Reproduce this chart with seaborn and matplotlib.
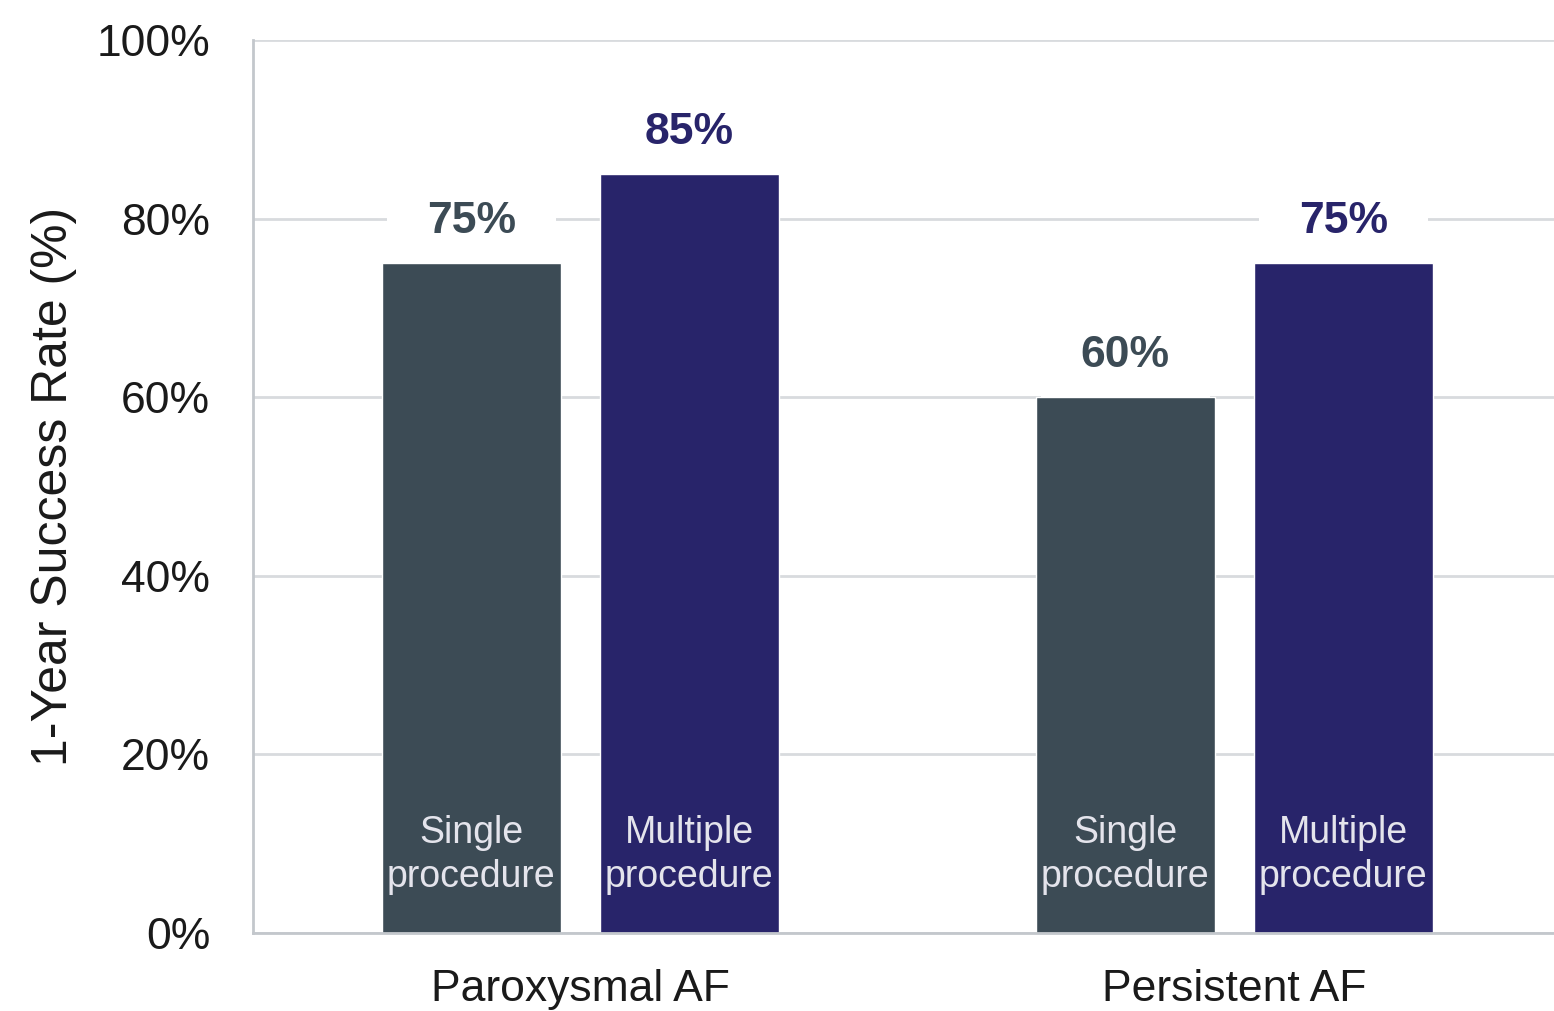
import pandas as pd
import matplotlib.pyplot as plt
import seaborn as sns

sns.set_theme(style="white")
plt.rcParams["font.family"] = ["Liberation Sans", "DejaVu Sans"]

# data
af_types = ["Paroxysmal AF", "Persistent AF"]
procedures = ["Single procedure", "Multiple procedure"]
single_rate = [75, 60]
multiple_rate = [85, 75]

bar_colors = ["#3c4b55", "#28246a"]

df = pd.DataFrame({
    "AF type": af_types * 2,
    "Procedure": [procedures[0]] * 2 + [procedures[1]] * 2,
    "Rate": single_rate + multiple_rate,
})

fig = plt.figure(figsize=(15.54, 10.11), dpi=100)
ax = fig.add_axes([0.163, 0.0772, 0.837, 0.8832])

sns.barplot(data=df, x="AF type", y="Rate", hue="Procedure",
            palette=bar_colors, width=0.667, gap=0.18, saturation=1,
            legend=False, ax=ax)

ax.set_ylim(0, 100)
ax.set_xlim(-0.5, 1.489)
ax.set_yticks([0, 20, 40, 60, 80, 100])
ax.set_yticklabels([f"{t}%" for t in [0, 20, 40, 60, 80, 100]])
ax.grid(axis="y", color="#d8dbde", linewidth=2)
ax.set_axisbelow(True)
ax.tick_params(axis="y", length=0, pad=31, labelsize=32, labelcolor="#1a1a1a")
ax.tick_params(axis="x", length=0, pad=26, labelsize=32, labelcolor="#1a1a1a")
ax.set_xlabel("")
ax.set_ylabel("1-Year Success Rate (%)", fontsize=36, color="#1a1a1a", labelpad=14)

for side in ["top", "right"]:
    ax.spines[side].set_visible(False)
for side in ["left", "bottom"]:
    ax.spines[side].set_color("#c3c7cc")
    ax.spines[side].set_linewidth(2)

# value labels above bars and names inside bars
for cont, proc, col in zip(ax.containers, procedures, bar_colors):
    for bar, val in zip(cont, cont.datavalues):
        cx = bar.get_x() + bar.get_width() / 2
        ax.annotate(f"{val:.0f}%", (cx, val), xytext=(0, 30),
                    textcoords="offset points", ha="center", va="center",
                    fontsize=32, fontweight="bold", color=col, zorder=0.9,
                    bbox=dict(boxstyle="square,pad=0.9", fc="white", ec="none"))
        ax.text(cx, 8.7, proc.replace(" ", "\n"), ha="center", va="center",
                fontsize=27, color="#e4e4ec", linespacing=1.3)

fig.savefig("out.png", dpi=100)
